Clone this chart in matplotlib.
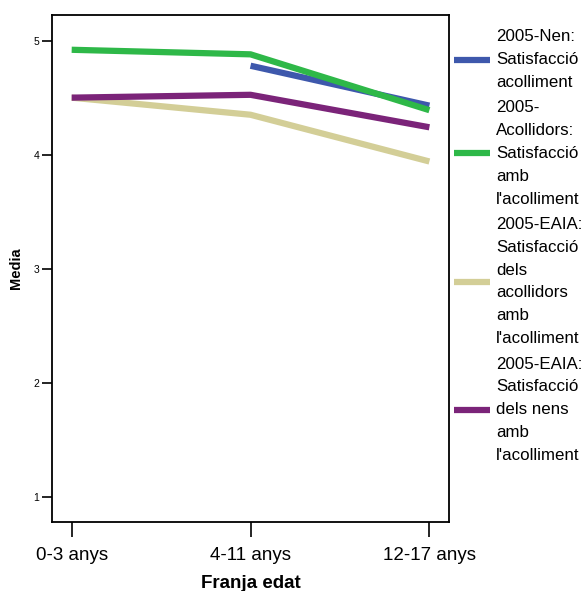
import matplotlib as mpl

mpl.use("Agg")

import matplotlib.pyplot as plt
import numpy as np

plt.rcParams["font.family"] = ["Liberation Sans", "DejaVu Sans"]

# Values
age_groups = ["0-3 anys", "4-11 anys", "12-17 anys"]
nen_acolliment = [np.nan, 4.78, 4.43]
acollidors = [4.92, 4.88, 4.39]
eaia_acollidors = [4.50, 4.35, 3.94]
eaia_nens = [4.50, 4.525, 4.24]

series_labels = [
    "2005-Nen:\nSatisfacció\nacolliment",
    "2005-\nAcollidors:\nSatisfacció\namb\nl'acolliment",
    "2005-EAIA:\nSatisfacció\ndels\nacollidors\namb\nl'acolliment",
    "2005-EAIA:\nSatisfacció\ndels nens\namb\nl'acolliment",
]
series_colors = ["#3E58AC", "#2EB848", "#D3CE97", "#7B2479"]

fig = plt.figure(figsize=(5.87, 5.91), dpi=100)
ax = fig.add_axes([0.0886, 0.1173, 0.6764, 0.8573])

x = np.arange(len(age_groups))
for values, label, color in zip(
    [nen_acolliment, acollidors, eaia_acollidors, eaia_nens], series_labels, series_colors
):
    ax.plot(x, values, color=color, linewidth=4.5, label=label, solid_capstyle="butt")

ax.set_xlim(-0.11, 2.11)
ax.set_ylim(0.78, 5.225)
ax.set_xticks(x)
ax.set_xticklabels(age_groups, fontsize=13.5)
ax.set_yticks([1, 2, 3, 4, 5])
ax.tick_params(axis="y", labelsize=7.5, length=7, width=1.2, pad=2)
ax.tick_params(axis="x", length=11, width=1.2, pad=7)
for spine in ax.spines.values():
    spine.set_linewidth(1.3)

ax.set_xlabel("Franja edat", fontsize=13.5, fontweight="bold", labelpad=8)
ax.set_ylabel("Media", fontsize=10.5, fontweight="bold", labelpad=8)

leg = ax.legend(
    loc="upper left",
    bbox_to_anchor=(1.0, 0.982),
    frameon=False,
    fontsize=12.2,
    handlelength=2.1,
    handletextpad=0.38,
    labelspacing=0.62,
    borderaxespad=0.0,
    borderpad=0.3,
)
for t in leg.get_texts():
    t.set_linespacing(1.65)

fig.savefig("out.png", dpi=100)
